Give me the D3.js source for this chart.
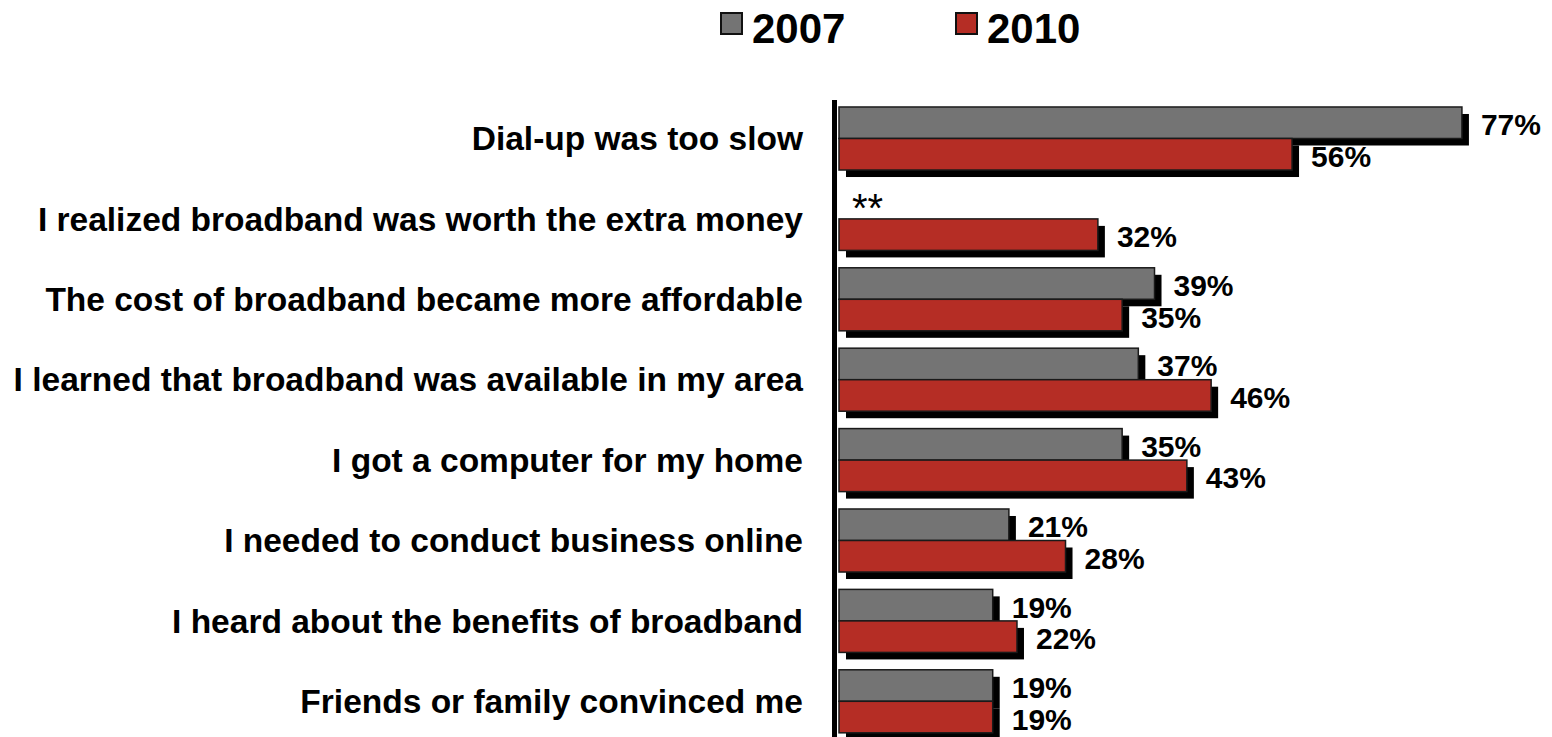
<!DOCTYPE html>
<html>
<head>
<meta charset="utf-8">
<script src="https://cdn.jsdelivr.net/npm/d3@7"></script>
<style>
  body { margin: 0; background: #fff; }
  svg { display: block; font-family: "Liberation Sans", Arial, sans-serif; }
</style>
</head>
<body>
<svg id="chart" width="1552" height="737"></svg>
<script>
// data
var categories = [
    'Dial-up was too slow',
    'I realized broadband was worth the extra money',
    'The cost of broadband became more affordable',
    'I learned that broadband was available in my area',
    'I got a computer for my home',
    'I needed to conduct business online',
    'I heard about the benefits of broadband',
    'Friends or family convinced me'
];
var seriesNames = ['2007', '2010'];
var values2007 = [77, null, 39, 37, 35, 21, 19, 19];
var values2010 = [56, 32, 35, 46, 43, 28, 22, 19];
var missingMark = '**';

var colors = ['#747474', '#b52d25'];
var shadowOff = 7;

var svg = d3.select('#chart');

var x = d3.scaleLinear()
    .domain([0, 100])
    .range([839, 839 + 809]);

var y = d3.scaleBand()
    .domain(categories)
    .range([98.3, 741.5])
    .paddingInner(0.216)
    .paddingOuter(0.108);

var sub = d3.scaleBand()
    .domain(seriesNames)
    .range([0, y.bandwidth()]);

var rows = categories.map(function(c, i) {
    return { name: c, vals: [values2007[i], values2010[i]] };
});

// category labels
svg.append('g')
    .selectAll('text')
    .data(categories)
    .join('text')
    .attr('x', 803)
    .attr('y', function(d) { return y(d) + y.bandwidth() / 2; })
    .attr('dy', '0.35em')
    .attr('text-anchor', 'end')
    .attr('font-size', 33.5)
    .attr('font-weight', 'bold')
    .attr('fill', '#000')
    .text(function(d) { return d; });

// bars with drop shadow
var groups = svg.append('g')
    .selectAll('g')
    .data(rows)
    .join('g')
    .attr('transform', function(d) { return 'translate(0,' + y(d.name) + ')'; });

seriesNames.forEach(function(s, si) {
    var bars = groups.filter(function(d) { return d.vals[si] != null; });

    bars.append('rect')
        .attr('x', x(0) + shadowOff)
        .attr('y', sub(s) + shadowOff)
        .attr('width', function(d) { return x(d.vals[si]) - x(0); })
        .attr('height', sub.bandwidth())
        .attr('fill', '#000');

    bars.append('rect')
        .attr('x', x(0))
        .attr('y', sub(s))
        .attr('width', function(d) { return x(d.vals[si]) - x(0); })
        .attr('height', sub.bandwidth())
        .attr('fill', colors[si])
        .attr('stroke', '#1a1a1a')
        .attr('stroke-width', 1.5);

    bars.append('text')
        .attr('x', function(d) { return x(d.vals[si]) + 19; })
        .attr('y', sub(s) + sub.bandwidth() / 2 + 2)
        .attr('dy', '0.35em')
        .attr('font-size', 30)
        .attr('font-weight', 'bold')
        .text(function(d) { return d.vals[si] + '%'; });

    // no value for this year
    groups.filter(function(d) { return d.vals[si] == null; })
        .append('text')
        .attr('x', x(0) + 13)
        .attr('y', sub(s) + sub.bandwidth() + 3)
        .attr('font-size', 40)
        .text(missingMark);
});

// vertical axis line
svg.append('line')
    .attr('x1', 834.5)
    .attr('x2', 834.5)
    .attr('y1', 100)
    .attr('y2', 737)
    .attr('stroke', '#000')
    .attr('stroke-width', 5);

// legend
var legend = svg.append('g')
    .selectAll('g')
    .data(seriesNames)
    .join('g')
    .attr('transform', function(d, i) { return 'translate(' + (721 + i * 235) + ',13)'; });

legend.append('rect')
    .attr('width', 21)
    .attr('height', 21)
    .attr('fill', function(d, i) { return colors[i]; })
    .attr('stroke', '#111')
    .attr('stroke-width', 2);

legend.append('text')
    .attr('x', 31)
    .attr('y', 30)
    .attr('font-size', 42)
    .attr('font-weight', 'bold')
    .text(function(d) { return d; });
</script>
</body>
</html>
